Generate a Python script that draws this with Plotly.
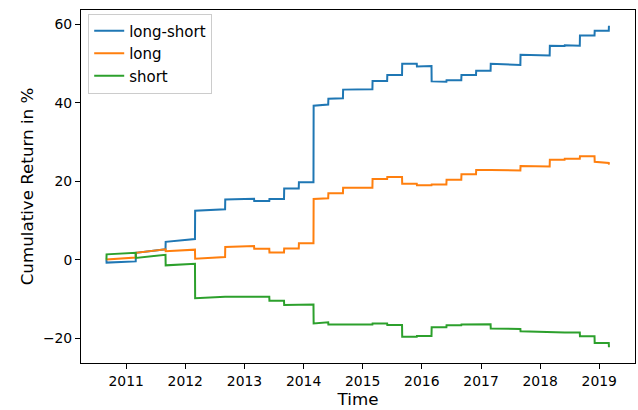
import plotly.graph_objects as go
from datetime import date, timedelta

# Rebalancing dates (each one marks a jump between "before" and "after" values)
rebalance_dates = [
    "2010-09-01", "2011-03-01", "2011-09-01", "2012-03-01", "2012-09-03",
    "2013-03-01", "2013-06-03", "2013-09-02", "2013-12-02", "2014-03-03",
    "2014-06-02", "2014-09-01", "2015-03-02", "2015-06-01", "2015-09-01",
    "2015-12-01", "2016-03-01", "2016-06-01", "2016-09-01", "2016-12-01",
    "2017-03-01", "2017-09-01", "2018-03-01", "2018-06-01", "2018-09-03",
    "2018-12-03", "2019-03-01",
]

long_short_before = [0.0, -0.4, 2.7, 5.3, 12.9, 15.6, 15.0, 15.5, 18.2, 19.8,
                     39.6, 41.2, 43.5, 45.6, 47.1, 50.0, 49.4, 45.4, 45.8, 47.1,
                     48.2, 49.7, 52.1, 54.5, 54.6, 57.2, 58.4]
long_short_after = [-0.7, 1.8, 4.6, 12.5, 15.4, 15.0, 15.5, 18.2, 19.8, 39.3,
                    41.1, 43.4, 45.6, 47.1, 50.0, 49.3, 45.5, 45.8, 47.1, 48.2,
                    50.0, 52.3, 54.6, 54.7, 57.2, 58.4, 59.7]

long_before = [0.0, 0.6, 2.7, 2.6, 0.7, 3.5, 2.8, 1.9, 2.9, 4.2,
               15.7, 17.0, 18.4, 20.6, 21.1, 19.4, 19.0, 19.2, 20.4, 21.8,
               22.9, 22.8, 23.8, 25.5, 25.8, 26.4, 24.7]
long_after = [0.1, 1.8, 2.2, 0.3, 3.3, 2.8, 1.9, 2.9, 4.2, 15.5,
              17.0, 18.4, 20.6, 21.1, 19.4, 19.0, 19.2, 20.4, 21.8, 22.9,
              22.9, 23.9, 25.5, 25.8, 26.4, 25.0, 24.3]

short_before = [0.0, 1.8, 1.3, -1.0, -9.4, -9.3, -9.4, -10.4, -11.5, -11.4,
                -15.9, -16.5, -16.5, -16.2, -16.6, -19.6, -19.4, -17.2, -16.7, -16.5,
                -16.4, -17.6, -18.5, -18.5, -18.5, -19.5, -21.2]
short_after = [1.4, 0.5, -1.4, -9.8, -9.4, -9.3, -10.4, -11.5, -11.5, -16.2,
               -16.5, -16.5, -16.2, -16.6, -19.6, -19.4, -17.2, -16.7, -16.5, -16.4,
               -17.5, -18.2, -18.5, -18.5, -19.5, -21.2, -22.3]

series_names = ["long-short", "long", "short"]
series_colors = ["#1f77b4", "#ff7f0e", "#2ca02c"]
tick_years = [2011, 2012, 2013, 2014, 2015, 2016, 2017, 2018, 2019]
y_ticks = [-20, 0, 20, 40, 60]


def build(dates, before, after):
    xs, ys = [], []
    for d, b, a in zip(dates, before, after):
        d0 = date.fromisoformat(d)
        xs += [d0, d0 + timedelta(days=1)]
        ys += [b, a]
    return xs, ys


FONT = "DejaVu Sans"
fig = go.Figure()
for name, color, (bef, aft) in zip(
    series_names, series_colors,
    [(long_short_before, long_short_after), (long_before, long_after), (short_before, short_after)],
):
    xs, ys = build(rebalance_dates, bef, aft)
    fig.add_trace(go.Scatter(x=xs, y=ys, mode="lines", name=name,
                             line=dict(color=color, width=2)))

fig.update_layout(
    width=638, height=410,
    margin=dict(l=81, r=3, t=10, b=47, autoexpand=False),
    paper_bgcolor="white", plot_bgcolor="white",
    font=dict(family=FONT, color="black", size=14),
    showlegend=True,
    legend=dict(x=0.013, y=0.99, xanchor="left", yanchor="top",
                bgcolor="rgba(255,255,255,0.8)", bordercolor="#cccccc", borderwidth=1,
                font=dict(family=FONT, size=15), itemwidth=30),
    xaxis=dict(
        range=["2010-03-28", "2019-08-10"],
        tickvals=[f"{y}-01-01" for y in tick_years],
        ticktext=[str(y) for y in tick_years],
        showgrid=False, zeroline=False, automargin=False,
        showline=True, linecolor="black", linewidth=1, mirror=True,
        ticks="outside", ticklen=5, tickwidth=1, tickcolor="black",
        tickfont=dict(family=FONT, size=13.9),
        title=dict(text="Time", font=dict(family=FONT, size=16.7), standoff=2),
    ),
    yaxis=dict(
        range=[-26.3, 63.7],
        tickvals=y_ticks,
        showgrid=False, zeroline=False, automargin=False,
        showline=True, linecolor="black", linewidth=1, mirror=True,
        ticks="outside", ticklen=5, tickwidth=1, tickcolor="black",
        tickfont=dict(family=FONT, size=13.9),
        title=dict(text="Cumulative Return in %", font=dict(family=FONT, size=16.7), standoff=5),
    ),
)

fig.write_html(
    "out.html",
    config={"displayModeBar": False},
    post_script="document.body.style.margin='0';document.body.style.overflow='hidden';",
)
